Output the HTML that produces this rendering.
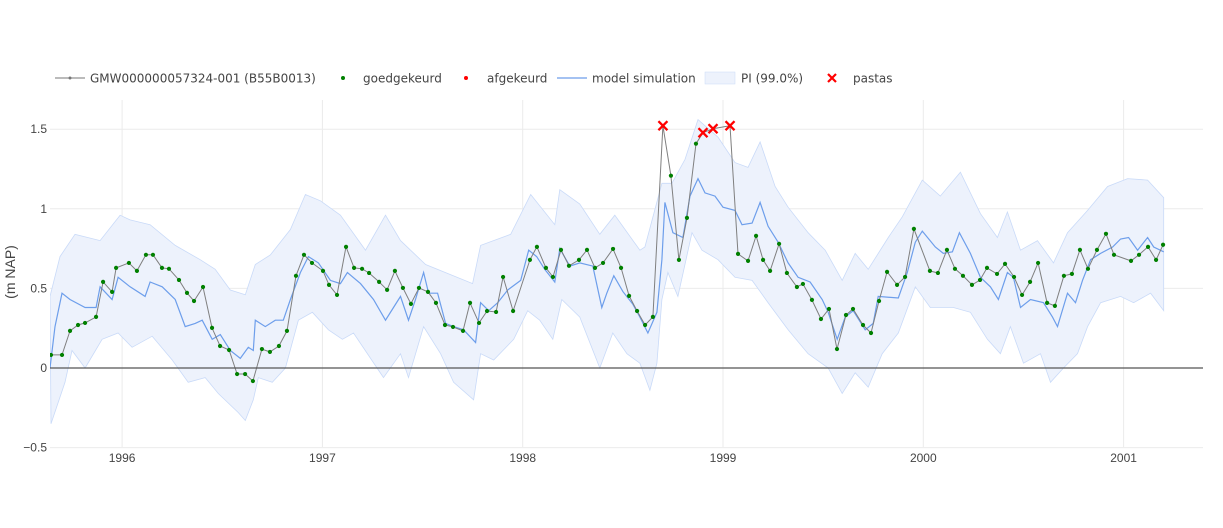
<!DOCTYPE html>
<html><head><meta charset="utf-8">
<style>
html,body{margin:0;padding:0;background:#fff;}
svg{display:block;font-family:"Liberation Sans","DejaVu Sans",sans-serif;}
</style></head>
<body>
<svg id="chart" width="1223" height="528" viewBox="0 0 1223 528">
<defs><clipPath id="plotclip"><rect x="50" y="100" width="1153" height="347"/></clipPath></defs>
<g id="grid"></g>
<g id="plot" clip-path="url(#plotclip)"></g>
<g id="axes"></g>
<text x="15" y="272" transform="rotate(-90 15 272)" text-anchor="middle" font-size="14" fill="#444">(m NAP)</text>
<g id="legend" font-size="12" fill="#444" style="font-family:'DejaVu Sans','Liberation Sans',sans-serif">
  <g>
    <line x1="55" y1="78" x2="85" y2="78" stroke="#777" stroke-width="1"/>
    <circle cx="70" cy="78" r="1.5" fill="#777"/>
    <text x="90" y="82.5">GMW000000057324-001 (B55B0013)</text>
  </g>
  <g>
    <circle cx="343" cy="78" r="2" fill="#008000"/>
    <text x="363" y="82.5">goedgekeurd</text>
  </g>
  <g>
    <circle cx="466" cy="78" r="2" fill="#ff0000"/>
    <text x="487" y="82.5">afgekeurd</text>
  </g>
  <g>
    <line x1="557" y1="78" x2="587" y2="78" stroke="#6d9eeb" stroke-width="1.3"/>
    <text x="592" y="82.5">model simulation</text>
  </g>
  <g>
    <rect x="705" y="72" width="30" height="12" fill="#edf2fc" stroke="#c9daf8" stroke-width="0.5"/>
    <text x="741" y="82.5">PI (99.0%)</text>
  </g>
  <g>
    <path d="M828,74 L836,82 M836,74 L828,82" stroke="#ff0000" stroke-width="2.2"/>
    <text x="853" y="82.5">pastas</text>
  </g>
</g>
</svg>
<script>
// ---- data ----
const xTicks = [1996,1997,1998,1999,2000,2001];
const yTicks = [-0.5,0,0.5,1,1.5];
const yTickLabels = ["\u22120.5","0","0.5","1","1.5"];

const obsDates = [1995.645,1995.700,1995.740,1995.780,1995.815,1995.870,1995.905,1995.950,1995.970,1996.034,1996.074,1996.119,1996.154,1996.199,1996.234,1996.284,1996.324,1996.359,1996.404,1996.449,1996.489,1996.534,1996.574,1996.614,1996.653,1996.698,1996.738,1996.783,1996.823,1996.868,1996.908,1996.948,1997.003,1997.033,1997.073,1997.118,1997.158,1997.198,1997.233,1997.283,1997.323,1997.362,1997.402,1997.442,1997.482,1997.527,1997.567,1997.612,1997.652,1997.702,1997.737,1997.782,1997.822,1997.867,1997.902,1997.952,1998.036,1998.071,1998.116,1998.151,1998.191,1998.231,1998.281,1998.321,1998.361,1998.401,1998.451,1998.491,1998.531,1998.571,1998.611,1998.650,1998.700,1998.740,1998.780,1998.820,1998.865,1998.900,1998.950,1999.035,1999.075,1999.125,1999.165,1999.200,1999.235,1999.280,1999.319,1999.369,1999.399,1999.444,1999.489,1999.529,1999.569,1999.614,1999.649,1999.699,1999.739,1999.779,1999.819,1999.869,1999.909,1999.953,2000.033,2000.073,2000.118,2000.158,2000.198,2000.243,2000.283,2000.318,2000.368,2000.408,2000.453,2000.493,2000.533,2000.573,2000.618,2000.657,2000.702,2000.742,2000.782,2000.822,2000.867,2000.912,2000.952,2001.037,2001.077,2001.122,2001.162,2001.197];
const obsValues = [0.082,0.082,0.233,0.270,0.283,0.321,0.541,0.478,0.629,0.660,0.610,0.711,0.711,0.629,0.623,0.553,0.472,0.421,0.509,0.252,0.138,0.113,-0.038,-0.038,-0.082,0.119,0.101,0.138,0.233,0.579,0.711,0.660,0.610,0.522,0.459,0.761,0.629,0.623,0.597,0.541,0.491,0.610,0.503,0.403,0.503,0.478,0.409,0.270,0.258,0.233,0.409,0.283,0.358,0.352,0.572,0.358,0.679,0.761,0.629,0.572,0.742,0.642,0.679,0.742,0.629,0.660,0.748,0.629,0.453,0.358,0.270,0.321,1.522,1.208,0.679,0.943,1.409,1.478,1.503,1.522,0.717,0.673,0.830,0.679,0.610,0.780,0.597,0.509,0.528,0.428,0.308,0.371,0.119,0.333,0.371,0.270,0.220,0.421,0.604,0.522,0.572,0.874,0.610,0.597,0.742,0.623,0.579,0.522,0.553,0.629,0.591,0.654,0.572,0.459,0.541,0.660,0.409,0.390,0.579,0.591,0.742,0.623,0.742,0.843,0.711,0.673,0.711,0.761,0.679,0.774];
const pastasOutlierDates = [1998.700,1998.900,1998.950,1999.035];

const simDates = [1995.64,1995.665,1995.70,1995.74,1995.815,1995.87,1995.89,1995.95,1995.98,1996.04,1996.115,1996.14,1996.20,1996.265,1996.315,1996.365,1996.40,1996.45,1996.49,1996.54,1996.59,1996.63,1996.655,1996.665,1996.715,1996.765,1996.805,1996.84,1996.89,1996.93,1996.98,1997.04,1997.09,1997.125,1997.19,1997.255,1997.315,1997.355,1997.39,1997.43,1997.465,1997.505,1997.53,1997.575,1997.615,1997.655,1997.705,1997.765,1997.79,1997.83,1997.875,1997.925,1997.99,1998.03,1998.07,1998.11,1998.16,1998.185,1998.235,1998.285,1998.35,1998.395,1998.42,1998.455,1998.50,1998.55,1998.585,1998.625,1998.67,1998.695,1998.71,1998.75,1998.80,1998.835,1998.875,1998.91,1998.96,1999.00,1999.06,1999.095,1999.145,1999.185,1999.225,1999.275,1999.325,1999.375,1999.435,1999.495,1999.525,1999.57,1999.61,1999.65,1999.71,1999.75,1999.775,1999.875,1999.92,1999.96,1999.995,2000.06,2000.10,2000.145,2000.18,2000.235,2000.285,2000.335,2000.375,2000.42,2000.45,2000.485,2000.535,2000.60,2000.645,2000.67,2000.72,2000.76,2000.795,2000.835,2000.885,2000.945,2000.985,2001.025,2001.07,2001.12,2001.15,2001.20];
const simValues = [0.00,0.26,0.47,0.43,0.38,0.38,0.51,0.43,0.57,0.51,0.45,0.54,0.51,0.43,0.26,0.28,0.30,0.18,0.21,0.11,0.06,0.13,0.11,0.30,0.26,0.30,0.30,0.43,0.60,0.70,0.66,0.55,0.53,0.60,0.53,0.43,0.30,0.38,0.45,0.30,0.43,0.60,0.47,0.47,0.28,0.26,0.24,0.16,0.41,0.36,0.41,0.49,0.55,0.74,0.70,0.62,0.54,0.75,0.64,0.66,0.64,0.38,0.47,0.58,0.48,0.40,0.32,0.22,0.35,0.68,1.04,0.85,0.82,1.08,1.19,1.10,1.08,1.01,0.99,0.90,0.91,1.04,0.89,0.79,0.66,0.57,0.54,0.43,0.35,0.18,0.32,0.36,0.24,0.28,0.45,0.44,0.60,0.79,0.86,0.76,0.72,0.73,0.85,0.72,0.57,0.51,0.43,0.60,0.57,0.38,0.43,0.41,0.32,0.26,0.47,0.41,0.55,0.68,0.72,0.76,0.81,0.82,0.74,0.82,0.76,0.73];

const piUpperDates = [1995.64,1995.69,1995.765,1995.89,1995.99,1996.04,1996.14,1996.265,1996.39,1996.465,1996.54,1996.615,1996.665,1996.74,1996.84,1996.915,1996.99,1997.09,1997.215,1997.315,1997.39,1997.515,1997.75,1997.79,1997.94,1998.04,1998.16,1998.185,1998.285,1998.385,1998.46,1998.585,1998.61,1998.695,1998.745,1998.81,1998.875,1998.975,1999.06,1999.125,1999.185,1999.26,1999.325,1999.425,1999.51,1999.595,1999.66,1999.725,1999.825,1999.895,1999.995,2000.085,2000.185,2000.285,2000.37,2000.42,2000.485,2000.57,2000.65,2000.72,2000.82,2000.92,2001.02,2001.12,2001.20];
const piUpperValues = [0.45,0.70,0.84,0.80,0.96,0.93,0.90,0.77,0.68,0.62,0.49,0.46,0.65,0.71,0.87,1.09,1.05,0.96,0.74,0.96,0.80,0.65,0.53,0.77,0.84,1.09,0.90,1.12,1.03,0.84,0.96,0.74,0.76,1.16,1.16,1.31,1.56,1.45,1.29,1.26,1.42,1.14,1.01,0.85,0.74,0.55,0.72,0.62,0.82,0.95,1.18,1.08,1.23,0.97,0.82,0.98,0.74,0.80,0.66,0.85,0.99,1.14,1.19,1.18,1.07];
const piLowerDates = [1995.645,1995.715,1995.75,1995.815,1995.90,1995.98,1996.05,1996.15,1996.25,1996.33,1996.415,1996.48,1996.58,1996.615,1996.655,1996.68,1996.75,1996.815,1996.88,1996.95,1997.03,1997.10,1997.155,1997.305,1997.39,1997.43,1997.505,1997.59,1997.655,1997.755,1997.79,1997.855,1997.955,1998.025,1998.085,1998.15,1998.195,1998.285,1998.385,1998.45,1998.52,1998.585,1998.635,1998.67,1998.695,1998.725,1998.775,1998.845,1998.895,1998.975,1999.06,1999.145,1999.225,1999.325,1999.425,1999.525,1999.595,1999.66,1999.725,1999.795,1999.875,1999.96,2000.035,2000.15,2000.235,2000.32,2000.385,2000.435,2000.50,2000.585,2000.635,2000.70,2000.77,2000.82,2000.885,2000.985,2001.05,2001.135,2001.20];
const piLowerValues = [-0.35,-0.09,0.11,0.00,0.18,0.22,0.13,0.20,0.05,-0.09,-0.06,-0.16,-0.28,-0.33,-0.20,-0.06,-0.09,0.00,0.30,0.35,0.24,0.18,0.22,-0.06,0.09,-0.06,0.26,0.09,-0.09,-0.20,0.09,0.05,0.18,0.36,0.30,0.18,0.43,0.32,0.00,0.22,0.09,0.03,-0.14,0.03,0.43,0.60,0.45,0.85,0.74,0.68,0.57,0.55,0.41,0.24,0.09,0.00,-0.16,-0.03,-0.12,0.09,0.22,0.51,0.38,0.38,0.35,0.18,0.09,0.26,0.03,0.09,-0.09,0.00,0.09,0.26,0.41,0.45,0.41,0.47,0.36];

// ---- scales ----
const X0 = 50, X1 = 1203, Y0 = 100, Y1 = 447;
const xMin = 1995.64, xMax = 1995.64 + (X1 - X0) / 200.3;
function xs(v){ return X0 + (v - xMin) / (xMax - xMin) * (X1 - X0); }
function ys(v){ return 368 - v * 159.2; }

const NS = "http://www.w3.org/2000/svg";
function mk(tag, attrs, parent){
  const el = document.createElementNS(NS, tag);
  for (const k in attrs) el.setAttribute(k, attrs[k]);
  parent.appendChild(el);
  return el;
}
const grid = document.getElementById('grid');
const plot = document.getElementById('plot');
const axes = document.getElementById('axes');

xTicks.forEach(t => {
  const l = mk('line', {x1: xs(t), x2: xs(t), y1: Y0, y2: Y1, stroke: '#ebebeb', 'stroke-width': 1}, grid);
  
  
  const tx = mk('text', {x: xs(t), y: 462, 'text-anchor': 'middle', 'font-size': 12, fill: '#444'}, axes);
  tx.textContent = String(t);
  
  
});
yTicks.forEach((t, i) => {
  if (t !== 0) {
    const l = mk('line', {x1: X0, x2: X1, y1: ys(t), y2: ys(t), stroke: '#ebebeb', 'stroke-width': 1}, grid);
    
    
  }
  const tx = mk('text', {x: 47, y: ys(t) + 4, 'text-anchor': 'end', 'font-size': 12, fill: '#444'}, axes);
  tx.textContent = yTickLabels[i];
  
  
});

let d = '';
piUpperDates.forEach((t, i) => { d += (i ? 'L' : 'M') + xs(t).toFixed(1) + ',' + ys(piUpperValues[i]).toFixed(1); });
for (let i = piLowerDates.length - 1; i >= 0; i--) d += 'L' + xs(piLowerDates[i]).toFixed(1) + ',' + ys(piLowerValues[i]).toFixed(1);
d += 'Z';
const band = mk('path', {d: d, fill: '#edf2fc', stroke: '#c9daf8', 'stroke-width': 0.8}, plot);



const zl = mk('line', {x1: X0, x2: X1, y1: ys(0), y2: ys(0), stroke: '#555', 'stroke-width': 1.3}, axes);



const sim = mk('polyline', {points: simDates.map((t, i) => xs(t).toFixed(1) + ',' + ys(simValues[i]).toFixed(1)).join(' '), fill: 'none', stroke: '#6d9eeb', 'stroke-width': 1.2}, plot);



const obs = mk('polyline', {points: obsDates.map((t, i) => xs(t).toFixed(1) + ',' + ys(obsValues[i]).toFixed(1)).join(' '), fill: 'none', stroke: '#7f7f7f', 'stroke-width': 1}, plot);



obsDates.forEach((t, i) => {
  const isOut = pastasOutlierDates.some(o => Math.abs(o - t) < 0.002);
  if (isOut) {
    const cx = xs(t), cy = ys(obsValues[i]);
    const m = mk('path', {d: `M${cx-4.5},${cy-4.5}L${cx+4.5},${cy+4.5}M${cx+4.5},${cy-4.5}L${cx-4.5},${cy+4.5}`, stroke: '#ff0000', 'stroke-width': 2.3}, axes);
    
    
  } else {
    const c = mk('circle', {cx: xs(t), cy: ys(obsValues[i]), r: 2.1, fill: '#008000'}, plot);
    
    
  }
});
</script>
</body></html>
